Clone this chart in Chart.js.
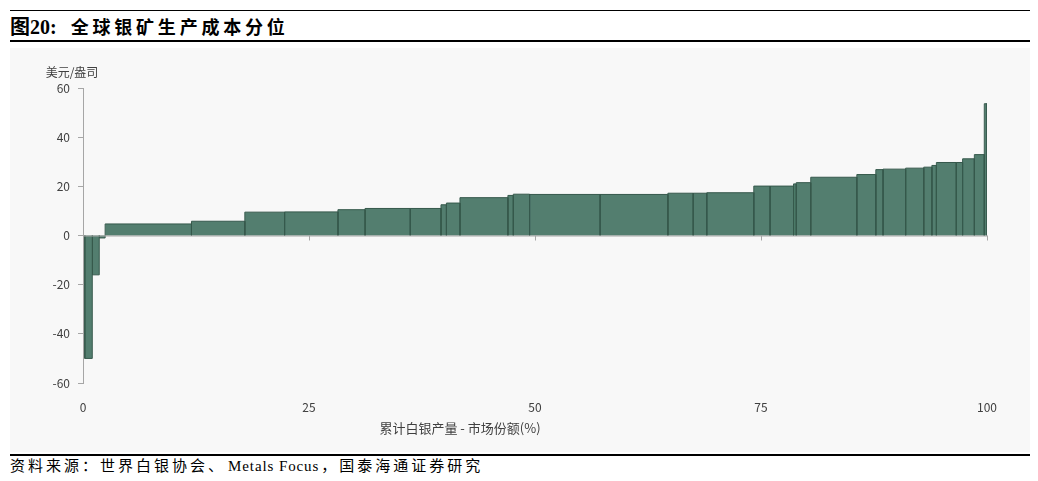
<!DOCTYPE html>
<html>
<head>
<meta charset="utf-8">
<script src="https://cdn.jsdelivr.net/npm/chart.js@4/dist/chart.umd.min.js"></script>
<style>
  body { margin: 0; background: #fff; width: 1038px; height: 481px; position: relative; overflow: hidden; }
  .rule { position: absolute; left: 10px; width: 1020px; background: #000; }
  #title { position: absolute; left: 10px; top: 12px; height: 28px; line-height: 28px; white-space: nowrap;
           font-family: "Liberation Serif", "Noto Sans CJK SC", serif; font-size: 20px; font-weight: bold; color: #000; }
  #title .cn { font-family: "Noto Sans CJK SC", sans-serif; font-size: 18px; letter-spacing: 3.8px; margin-left: 14px; }
  #wrap { position: absolute; left: 10px; top: 48px; width: 1020px; height: 404px; background: #f8f8f8; }
  #source { position: absolute; left: 10px; top: 456px; line-height: 20px; white-space: nowrap;
            font-family: "Liberation Serif", "Noto Sans CJK SC", serif; font-size: 15px; color: #000; }
  #source .cn { letter-spacing: 3px; }
  #source .en { letter-spacing: 0.9px; margin: 0 2px; }
</style>
</head>
<body>
<div class="rule" style="top:10px;height:1px"></div>
<div id="title">图20:<span class="cn">全球银矿生产成本分位</span></div>
<div class="rule" style="top:40px;height:2px"></div>
<div id="wrap"><canvas id="myChart"></canvas></div>
<div class="rule" style="top:454px;height:2px"></div>
<div id="source"><span class="cn">资料来源：世界白银协会、</span><span class="en">Metals Focus</span><span class="cn">，国泰海通证券研究</span></div>
<script>
// cumulative market share boundaries (%) - one more than the cost list
const shareEdges = [0.2, 1.03, 1.8, 2.45, 12.0, 17.9, 22.3, 28.2, 31.2, 36.2, 39.6, 40.2, 41.7,
    47.0, 47.6, 49.4, 57.2, 64.7, 67.5, 69.0, 74.2, 76.0, 78.6, 78.9, 80.5, 85.6, 87.7,
    88.5, 91.0, 93.0, 93.9, 94.4, 96.6, 97.3, 98.6, 99.7, 100]
// cost per mine group (USD/oz)
const costs = [-50, -16, -1, 4.7, 5.8, 9.5, 9.6, 10.5, 11.0, 11.0, 12.5, 13.2, 15.4, 16.3,
    16.8, 16.7, 16.7, 17.2, 17.2, 17.4, 20.1, 20.1, 21.0, 21.5, 23.7, 24.8, 26.8, 27.0,
    27.4, 27.8, 28.5, 29.7, 29.7, 31.2, 32.9, 53.6]
const xTicks = [0, 25, 50, 75, 100]
const yTicks = [-60, -40, -20, 0, 20, 40, 60]
const yUnit = '美元/盎司'
const xTitle = '累计白银产量 - 市场份额(%)'

const fontFamily = '"Noto Sans CJK SC", "Open Sans", sans-serif'

// each mine group is a filled rectangle drawn as a 4 point line
const datasets = costs.map(function (c, i) {
    return {
        data: [
            { x: shareEdges[i], y: 0 },
            { x: shareEdges[i], y: c },
            { x: shareEdges[i + 1], y: c },
            { x: shareEdges[i + 1], y: 0 }
        ],
        borderColor: '#36594c',
        borderWidth: 1,
        backgroundColor: '#537e6f',
        fill: 'origin',
        pointRadius: 0,
        tension: 0
    }
})

// zero axis line with ticks, unit label and x title
const extras = {
    id: 'extras',
    afterDatasetsDraw(chart) {
        const ctx = chart.ctx
        const xs = chart.scales.x
        const ys = chart.scales.y
        const y0 = ys.getPixelForValue(0)
        ctx.save()
        ctx.strokeStyle = '#a6a6a6'
        ctx.lineWidth = 1
        ctx.beginPath()
        ctx.moveTo(xs.left, y0 + 0.5)
        ctx.lineTo(xs.right, y0 + 0.5)
        xTicks.forEach(function (t) {
            const px = Math.round(xs.getPixelForValue(t)) + 0.5
            ctx.moveTo(px, y0)
            ctx.lineTo(px, y0 + 5)
        })
        ctx.stroke()

        ctx.fillStyle = '#404040'
        ctx.font = '12px ' + fontFamily
        ctx.textAlign = 'center'
        ctx.textBaseline = 'middle'
        ctx.fillText(yUnit, chart.chartArea.left - 11, chart.chartArea.top - 16)
        ctx.font = '13px ' + fontFamily
        ctx.fillText(xTitle, chart.chartArea.left + 377, chart.chartArea.bottom + 45)
        ctx.restore()
    }
}

const ctx = document.getElementById('myChart').getContext('2d')
const myChart = new Chart(ctx, {
    type: 'line',
    data: { datasets: datasets },
    plugins: [extras],
    options: {
        responsive: true,
        maintainAspectRatio: false,
        animation: false,
        layout: { padding: { left: 0, right: 43, top: 40, bottom: 0 } },
        plugins: { legend: { display: false }, tooltip: { enabled: false } },
        scales: {
            x: {
                type: 'linear',
                min: 0,
                max: 100,
                afterFit: function (s) { s.height = 69 },
                afterBuildTicks: function (s) { s.ticks = xTicks.map(v => ({ value: v })) },
                grid: { display: false },
                border: { display: false },
                ticks: { color: '#404040', padding: 9, font: { family: fontFamily, size: 12 } }
            },
            y: {
                min: -60,
                max: 60,
                afterFit: function (s) { s.width = 73 },
                afterBuildTicks: function (s) { s.ticks = yTicks.map(v => ({ value: v })) },
                grid: { drawOnChartArea: false, drawTicks: true, tickLength: 5, color: '#a6a6a6' },
                border: { color: '#a6a6a6' },
                ticks: { color: '#404040', padding: 8, font: { family: fontFamily, size: 12 } }
            }
        }
    }
})
</script>
</body>
</html>
